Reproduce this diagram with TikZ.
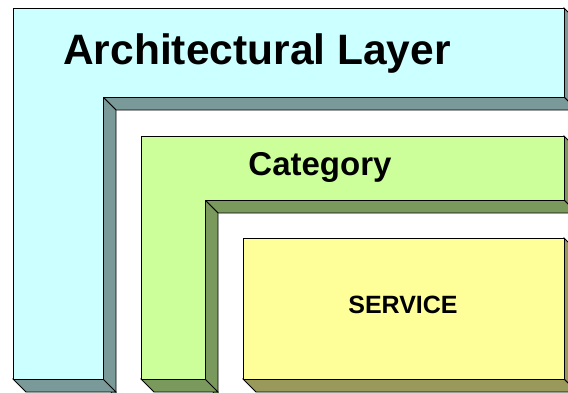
\documentclass[tikz,border=0pt]{standalone}
\usepackage{fontspec}
\setmainfont{Liberation Sans}
\definecolor{layerfront}{HTML}{CCFFFF}
\definecolor{layerside}{HTML}{7A9999}
\definecolor{catfront}{HTML}{CCFF99}
\definecolor{catside}{HTML}{7A995C}
\definecolor{servfront}{HTML}{FFFF99}
\definecolor{servside}{HTML}{99995C}
\begin{document}
\begin{tikzpicture}[x=1pt,y=-1pt,line width=0.8pt,
  face/.style={draw=black,fill=#1},
  label/.style={anchor=base,font=\bfseries\fontsize{#1}{#1}\selectfont}]
\useasboundingbox (0,0) rectangle (568,392);
\clip (0,0) rectangle (568,392);
% Architectural Layer
\filldraw[face=layerside] (564,8) -- (577,21) -- (577,110) -- (564,97) -- cycle;
\filldraw[face=layerside] (103,97) -- (564,97) -- (577,110) -- (116,110) -- cycle;
\filldraw[face=layerside] (103,97) -- (116,110) -- (116,400) -- (103,379) -- cycle;
\filldraw[face=layerside] (13,379) -- (103,379) -- (116,392) -- (26,392) -- cycle;
\filldraw[face=layerfront] (13,8) -- (564,8) -- (564,97) -- (103,97) -- (103,379) -- (13,379) -- cycle;
% Category
\filldraw[face=catside] (564,136) -- (577,149) -- (577,213) -- (564,200) -- cycle;
\filldraw[face=catside] (205,200) -- (564,200) -- (577,213) -- (218,213) -- cycle;
\filldraw[face=catside] (205,200) -- (218,213) -- (218,400) -- (205,379) -- cycle;
\filldraw[face=catside] (141,379) -- (205,379) -- (218,392) -- (154,392) -- cycle;
\filldraw[face=catfront] (141,136) -- (564,136) -- (564,200) -- (205,200) -- (205,379) -- (141,379) -- cycle;
% SERVICE
\filldraw[face=servside] (564,238) -- (577,251) -- (577,392) -- (564,379) -- cycle;
\filldraw[face=servside] (243,379) -- (564,379) -- (577,392) -- (256,392) -- cycle;
\filldraw[face=servfront] (243,238) rectangle (564,379);
% texts
\node[label=42.5] (layer) at (257,64) {Architectural Layer};
\node[label=33] (category) at (320,175) {Category};
\node[label=25] (service) at (403,313) {SERVICE};
\end{tikzpicture}
\end{document}
